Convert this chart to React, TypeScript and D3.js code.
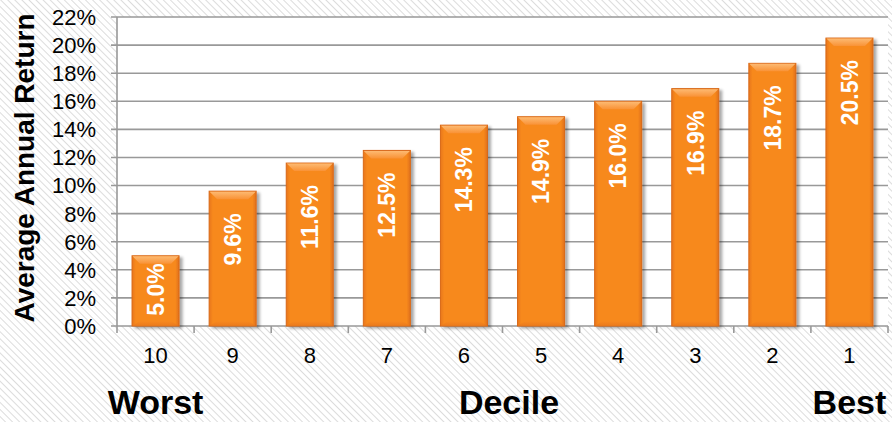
import React from "react";
import * as d3 from "d3";

const categories = ["10", "9", "8", "7", "6", "5", "4", "3", "2", "1"];
const values = [5.0, 9.6, 11.6, 12.5, 14.3, 14.9, 16.0, 16.9, 18.7, 20.5];
const yTicks = [0, 2, 4, 6, 8, 10, 12, 14, 16, 18, 20, 22];
const yTitle = "Average Annual Return";
const bottomLabels = ["Worst", "Decile", "Best"];

const W = 892;
const H = 422;
const plot = { left: 117, right: 888, top: 17, bottom: 326 };
const FONT = "'Liberation Sans', Arial, sans-serif";

export default function App() {
  const x = d3
    .scaleBand<string>()
    .domain(categories)
    .range([plot.left, plot.right])
    .paddingInner(0.39)
    .paddingOuter(0.195);
  const y = d3.scaleLinear().domain([0, 22]).range([plot.bottom, plot.top]);
  const step = x.step();
  const bw = x.bandwidth();
  const boundaries = d3.range(categories.length + 1).map((i) => plot.left + i * step);
  const labelFont = 23;

  return (
    <svg
      width={W}
      height={H}
      style={{ position: "absolute", left: 0, top: 0 }}
      fontFamily={FONT}
    >
      <defs>
        <pattern id="hatch" width="5" height="5" patternUnits="userSpaceOnUse" patternTransform="rotate(-45)">
          <rect width="5" height="5" fill="#ffffff" />
          <line x1="0" y1="0" x2="0" y2="5" stroke="#dcdcdc" strokeWidth="2" />
        </pattern>
        <linearGradient id="barBody" x1="0" x2="1" y1="0" y2="0">
          <stop offset="0" stopColor="#E8761A" />
          <stop offset="0.08" stopColor="#F7891F" />
          <stop offset="0.92" stopColor="#F7891F" />
          <stop offset="1" stopColor="#E0701A" />
        </linearGradient>
        <linearGradient id="barTop" x1="0" x2="0" y1="0" y2="1">
          <stop offset="0" stopColor="#FDBA72" />
          <stop offset="1" stopColor="#F99236" />
        </linearGradient>
        <linearGradient id="barBottom" x1="0" x2="0" y1="0" y2="1">
          <stop offset="0" stopColor="#F7891F" />
          <stop offset="1" stopColor="#E9781C" />
        </linearGradient>
        <filter id="shadow" x="-20%" y="-10%" width="150%" height="130%">
          <feGaussianBlur in="SourceAlpha" stdDeviation="1.5" />
          <feOffset dx="2.5" dy="2" result="b" />
          <feComponentTransfer>
            <feFuncA type="linear" slope="0.35" />
          </feComponentTransfer>
          <feMerge>
            <feMergeNode />
            <feMergeNode in="SourceGraphic" />
          </feMerge>
        </filter>
      </defs>

      <rect x={0} y={0} width={W} height={H} fill="url(#hatch)" />
      <rect
        x={plot.left}
        y={plot.top}
        width={plot.right - plot.left}
        height={plot.bottom - plot.top}
        fill="#ffffff"
      />

      {/* gridlines and y ticks */}
      {yTicks.map((t) => (
        <g key={t}>
          <line
            x1={plot.left - 6}
            x2={plot.right}
            y1={y(t)}
            y2={y(t)}
            stroke="#999999"
            strokeWidth={1.6}
          />
          <text
            x={96}
            y={y(t)}
            dy="0.36em"
            textAnchor="end"
            fontSize={22}
            fill="#000"
          >
            {t}%
          </text>
        </g>
      ))}

      {/* y axis line */}
      <line x1={plot.left} x2={plot.left} y1={plot.top} y2={plot.bottom} stroke="#999999" strokeWidth={1.6} />

      {/* x tick marks */}
      {boundaries.map((bx, i) => (
        <line key={i} x1={bx} x2={bx} y1={plot.bottom} y2={plot.bottom + 7} stroke="#999999" strokeWidth={1.6} />
      ))}

      {/* bars */}
      {categories.map((c, i) => {
        const v = values[i];
        const x0 = x(c)!;
        const top = y(v);
        const base = y(0);
        const h = base - top;
        const bev = 8;
        const cx = x0 + bw / 2;
        const label = v.toFixed(1) + "%";
        const textLen = label.length * 0.6 * labelFont;
        let endY = top + 22;
        if (endY + textLen > base - 4) endY = (top + base) / 2 - textLen / 2;
        return (
          <g key={c}>
            <g filter="url(#shadow)">
              <rect x={x0} y={top} width={bw} height={h} fill="url(#barBody)" stroke="#D9691A" strokeWidth={1} />
            </g>
            <polygon
              points={`${x0 + 0.5},${top + 0.5} ${x0 + bw - 0.5},${top + 0.5} ${x0 + bw - bev},${top + bev} ${x0 + bev},${top + bev}`}
              fill="url(#barTop)"
            />
            <polygon
              points={`${x0 + 0.5},${base - 0.5} ${x0 + bw - 0.5},${base - 0.5} ${x0 + bw - bev},${base - 5} ${x0 + bev},${base - 5}`}
              fill="url(#barBottom)"
              opacity={0.8}
            />
            <text
              transform={`translate(${cx},${endY}) rotate(-90)`}
              textAnchor="end"
              dy="0.36em"
              fontSize={labelFont}
              fontWeight="bold"
              fill="#ffffff"
            >
              {label}
            </text>
          </g>
        );
      })}

      {/* x category labels */}
      {categories.map((c) => (
        <text key={c} x={x(c)! + bw / 2} y={363} textAnchor="middle" fontSize={22} fill="#000">
          {c}
        </text>
      ))}

      {/* y title */}
      <text
        transform={`translate(34,168) rotate(-90)`}
        textAnchor="middle"
        fontSize={28}
        fontWeight="bold"
        fill="#000"
      >
        {yTitle}
      </text>

      {/* bottom labels */}
      <text x={x(categories[0])! + bw / 2} y={414} textAnchor="middle" fontSize={34} fontWeight="bold" fill="#000">
        {bottomLabels[0]}
      </text>
      <text x={509} y={414} textAnchor="middle" fontSize={34} fontWeight="bold" fill="#000">
        {bottomLabels[1]}
      </text>
      <text x={x(categories[categories.length - 1])! + bw / 2} y={414} textAnchor="middle" fontSize={34} fontWeight="bold" fill="#000">
        {bottomLabels[2]}
      </text>
    </svg>
  );
}
